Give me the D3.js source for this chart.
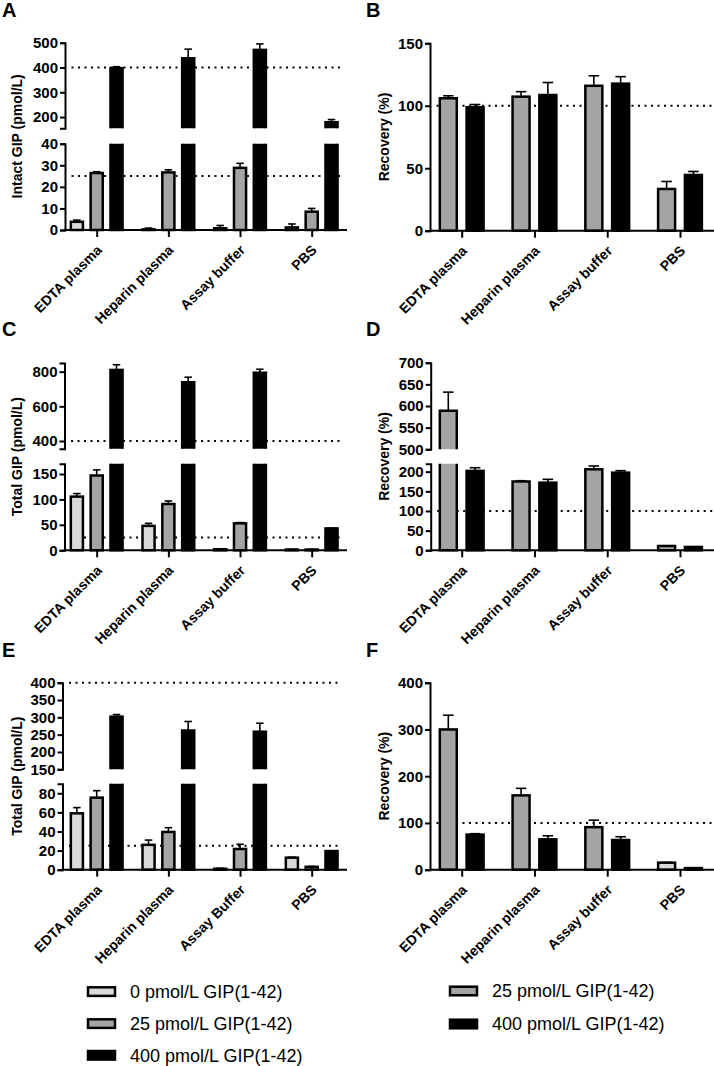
<!DOCTYPE html>
<html><head><meta charset="utf-8">
<script src="https://cdn.jsdelivr.net/npm/d3@7"></script>
<style>
body{margin:0;background:#fff}
svg{display:block}
text{font-family:"Liberation Sans",Arial,Helvetica,sans-serif}
</style>
</head><body>
<svg id="chart" width="714" height="1066"></svg>
<script>
// ---------------- DATA ----------------
const categories = ["EDTA plasma", "Heparin plasma", "Assay buffer", "PBS"];
const categoriesE = ["EDTA plasma", "Heparin plasma", "Assay Buffer", "PBS"];
const legendLabels3 = ["0 pmol/L GIP(1-42)", "25 pmol/L GIP(1-42)", "400 pmol/L GIP(1-42)"];
const legendLabels2 = ["25 pmol/L GIP(1-42)", "400 pmol/L GIP(1-42)"];

// Panel A: intact GIP (pmol/L)
const intact0 = [3.8, 0.3, 0.8, 1.2];      const intact0Sd = [0.8, 0.6, 1.3, 1.6];
const intact25 = [26.4, 26.7, 28.8, 8.5];  const intact25Sd = [0.6, 1.2, 2.1, 1.5];
const intact400 = [397, 437, 471, 179];    const intact400Sd = [6, 37, 24, 11];
// Panel B: recovery (%)
const recovB25 = [106, 107.3, 116, 33.4];  const recovB25Sd = [2, 4, 8, 6];
const recovB400 = [98.8, 108.6, 117.7, 44.6]; const recovB400Sd = [2.2, 10, 5.6, 2.8];
// Panel C: total GIP (pmol/L)
const totalC0 = [105.5, 48, 2, 1.5];       const totalC0Sd = [6, 5, 0.5, 0.3];
const totalC25 = [147, 91, 53, 1.5];       const totalC25Sd = [11, 6, 1.5, 0.3];
const totalC400 = [810, 739, 794, 43];     const totalC400Sd = [30, 29, 20, 0.5];
// Panel D: recovery (%)
const recovD25 = [589, 175, 206, 11];      const recovD25Sd = [43, 2, 8.5, 0.5];
const recovD400 = [202, 172, 197.5, 8.5];  const recovD400Sd = [8, 8.5, 5, 0.5];
// Panel E: total GIP (pmol/L)
const totalE0 = [59, 26, 1, 12.6];         const totalE0Sd = [6, 5, 0.5, 0.4];
const totalE25 = [75.4, 39.5, 21.7, 3];    const totalE25Sd = [7.3, 4.5, 4.9, 0.4];
const totalE400 = [302, 262, 258.5, 19.5]; const totalE400Sd = [6, 26, 24.5, 0.3];
// Panel F: recovery (%)
const recovF25 = [300, 159, 91, 15];       const recovF25Sd = [30.5, 15, 15, 0.5];
const recovF400 = [75, 65, 63.5, 3.5];     const recovF400Sd = [2, 7.5, 7, 0.3];

// ---------------- STYLE / LAYOUT ----------------
const fills = { s0: "#d9d9d9", s25: "#a4a4a7", s400: "#000000" };
const svg = d3.select("#chart");
const defs = svg.append("defs");

function ser(key, values, sd) { return { key, values, sd }; }

const panels = [
  { id: "A", letter: [2, 17], cats: categories, left: 65, right: 347, centers: [96.7, 311.7],
    title: "Intact GIP (pmol/L)", titleX: 22,
    series: [ser("s0", intact0, intact0Sd), ser("s25", intact25, intact25Sd), ser("s400", intact400, intact400Sd)],
    segments: [ { domain: [0, 40], range: [230, 143.7], ticks: [0, 10, 20, 30, 40] },
                { domain: [155, 500], range: [128.2, 42.7], ticks: [200, 300, 400, 500] } ],
    refs: [25, 400] },
  { id: "B", letter: [366, 17], cats: categories, left: 430, right: 714, centers: [461.7, 680],
    title: "Recovery (%)", titleX: 388.5,
    series: [ser("s25", recovB25, recovB25Sd), ser("s400", recovB400, recovB400Sd)],
    segments: [ { domain: [0, 150], range: [230.7, 43.3], ticks: [0, 50, 100, 150] } ],
    refs: [100] },
  { id: "C", letter: [2, 336], cats: categories, left: 64.5, right: 347, centers: [96.7, 311.7],
    title: "Total GIP (pmol/L)", titleX: 22,
    series: [ser("s0", totalC0, totalC0Sd), ser("s25", totalC25, totalC25Sd), ser("s400", totalC400, totalC400Sd)],
    segments: [ { domain: [0, 170], range: [550.3, 463.8], ticks: [0, 50, 100, 150] },
                { domain: [355, 850], range: [448.8, 363.0], ticks: [400, 600, 800] } ],
    refs: [25, 400] },
  { id: "D", letter: [366, 336], cats: categories, left: 430.7, right: 714, centers: [461.7, 680],
    title: "Recovery (%)", titleX: 388.5,
    series: [ser("s25", recovD25, recovD25Sd), ser("s400", recovD400, recovD400Sd)],
    segments: [ { domain: [0, 220], range: [550.3, 463.8], ticks: [0, 50, 100, 150, 200] },
                { domain: [500, 700], range: [449.3, 362.7], ticks: [500, 550, 600, 650, 700] } ],
    refs: [100] },
  { id: "E", letter: [2, 657], cats: categoriesE, left: 62.5, right: 347, centers: [96.7, 311.7],
    title: "Total GIP (pmol/L)", titleX: 22,
    series: [ser("s0", totalE0, totalE0Sd), ser("s25", totalE25, totalE25Sd), ser("s400", totalE400, totalE400Sd)],
    segments: [ { domain: [0, 90], range: [869.7, 783.7], ticks: [0, 20, 40, 60, 80] },
                { domain: [150, 400], range: [769.3, 682.7], ticks: [150, 200, 250, 300, 350, 400] } ],
    refs: [25, 400] },
  { id: "F", letter: [366, 657], cats: categories, left: 430, right: 714, centers: [461.7, 680],
    title: "Recovery (%)", titleX: 388.5,
    series: [ser("s25", recovF25, recovF25Sd), ser("s400", recovF400, recovF400Sd)],
    segments: [ { domain: [0, 400], range: [869.7, 682.7], ticks: [0, 100, 200, 300, 400] } ],
    refs: [100],
    fillOverride: { cat: "PBS", key: "s25", fill: fills.s0 } }
];

function drawPanel(p) {
  const g = svg.append("g").attr("class", "panel-" + p.id);
  const x = d3.scalePoint().domain(p.cats).range(p.centers);
  const keys = p.series.map(s => s.key);
  const three = keys.length === 3;
  const inner = d3.scaleBand().domain(keys)
    .range(three ? [-33.6, 33.6] : [-31.7, 31.7])
    .padding(three ? 0.39 : 0.366);
  const bw = inner.bandwidth();
  const segs = p.segments.map((s, i) => Object.assign({}, s, { y: d3.scaleLinear().domain(s.domain).range(s.range), idx: i }));
  const y0 = segs[0].range[0];

  // clip paths for each axis segment
  segs.forEach((s, i) => {
    const id = "clip-" + p.id + "-" + i;
    const top = i === segs.length - 1 ? s.range[1] - 40 : s.range[1];
    const bottom = i === 0 ? s.range[0] + 10 : s.range[0];
    defs.append("clipPath").attr("id", id).append("rect")
      .attr("x", p.left).attr("width", p.right - p.left)
      .attr("y", top).attr("height", bottom - top);
    s.clip = id;
  });

  // reference dotted lines
  p.refs.forEach(r => {
    const s = segs.find(s => r >= s.domain[0] && r <= s.domain[1]);
    g.append("line")
      .attr("x1", p.left + 6.5).attr("x2", p.right - (p.right > 700 ? 0 : 5))
      .attr("y1", s.y(r)).attr("y2", s.y(r))
      .attr("stroke", "#000").attr("stroke-width", 2)
      .attr("stroke-dasharray", "2,4.5");
  });

  // bars
  p.series.forEach(sr => {
    sr.values.forEach((v, i) => {
      const cat = p.cats[i];
      const bx = x(cat) + inner(sr.key);
      let fill = fills[sr.key];
      if (p.fillOverride && p.fillOverride.cat === cat && p.fillOverride.key === sr.key) fill = p.fillOverride.fill;
      segs.forEach(s => {
        if (v <= s.domain[0] && s.idx > 0) return;
        const yt = s.y(v);
        const yb = s.idx === 0 ? y0 : s.range[0] + 8;
        g.append("rect")
          .attr("clip-path", "url(#" + s.clip + ")")
          .attr("x", bx).attr("width", bw)
          .attr("y", Math.min(yt, yb)).attr("height", Math.abs(yb - yt))
          .attr("fill", fill).attr("stroke", "#000").attr("stroke-width", 2.5);
      });
      // error bar (upper only)
      const sd = sr.sd[i];
      const s = segs.find(s => v >= s.domain[0] && v <= s.domain[1]);
      if (s) {
        const cx = bx + bw / 2;
        const ya = s.y(v), yb2 = s.y(v + sd);
        const cap = bw * 0.62;
        g.append("line").attr("x1", cx).attr("x2", cx).attr("y1", ya).attr("y2", yb2)
          .attr("stroke", "#000").attr("stroke-width", 1.6);
        g.append("line").attr("x1", cx - cap / 2).attr("x2", cx + cap / 2).attr("y1", yb2).attr("y2", yb2)
          .attr("stroke", "#000").attr("stroke-width", 1.6);
      }
    });
  });

  // y axes
  segs.forEach(s => {
    const ax = g.append("g").attr("transform", "translate(" + p.left + ",0)")
      .call(d3.axisLeft(s.y).tickValues(s.ticks).tickSize(5).tickSizeOuter(5).tickPadding(2));
    ax.select(".domain").attr("stroke-width", 2).attr("stroke", "#000");
    ax.selectAll(".tick line").attr("stroke-width", 2).attr("stroke", "#000");
    ax.selectAll(".tick text").attr("font-size", 15).attr("font-weight", "bold")
      .attr("fill", "#000").style("font-family", '"Liberation Sans",Arial,sans-serif');
  });

  // x axis
  const xa = g.append("g").attr("transform", "translate(0," + y0 + ")")
    .call(d3.axisBottom(x).tickSize(7).tickSizeOuter(0).tickFormat(""));
  xa.select(".domain").attr("d", "M" + (p.left - 1) + ",0H" + p.right).attr("stroke-width", 2).attr("stroke", "#000");
  xa.selectAll(".tick line").attr("stroke-width", 2).attr("stroke", "#000");

  // category labels
  g.selectAll(".cat").data(p.cats).enter().append("text")
    .attr("transform", d => "translate(" + (x(d) + 6) + "," + (y0 + 21) + ") rotate(-45)")
    .attr("text-anchor", "end").attr("font-size", 14).attr("font-weight", "bold")
    .text(d => d);

  // y title
  const yTop = segs[segs.length - 1].range[1];
  g.append("text")
    .attr("transform", "translate(" + p.titleX + "," + ((yTop + y0) / 2) + ") rotate(-90)")
    .attr("text-anchor", "middle").attr("font-size", 14).attr("font-weight", "bold")
    .text(p.title);

  // letter
  g.append("text").attr("x", p.letter[0]).attr("y", p.letter[1])
    .attr("font-size", 20).attr("font-weight", "bold").text(p.id);
}

panels.forEach(drawPanel);

// legends
function legend(x0, ys, labels, keys) {
  const lg = svg.append("g");
  labels.forEach((lab, i) => {
    lg.append("rect").attr("x", x0).attr("y", ys[i] - 4.3).attr("width", 27).attr("height", 8.6)
      .attr("fill", fills[keys[i]]).attr("stroke", "#000").attr("stroke-width", 2.5);
    lg.append("text").attr("x", x0 + 42).attr("y", ys[i]).attr("dy", "0.35em")
      .attr("font-size", 18).text(lab);
  });
}
legend(88, [991.6, 1023.6, 1055.3], legendLabels3, ["s0", "s25", "s400"]);
legend(450, [991, 1024], legendLabels2, ["s25", "s400"]);
</script>
</body></html>
